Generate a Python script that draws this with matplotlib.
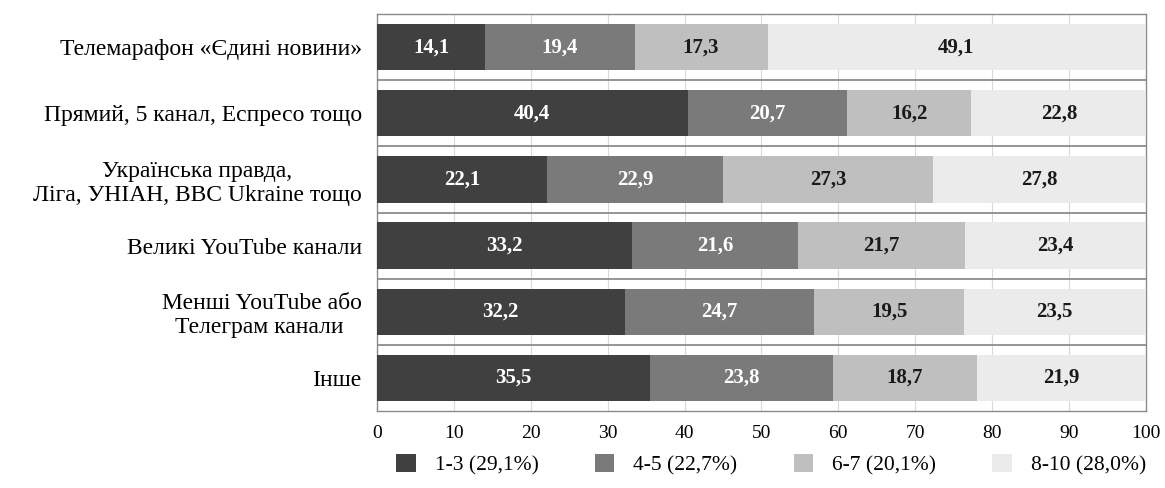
import matplotlib
matplotlib.use('Agg')
import matplotlib.pyplot as plt
import numpy as np

plt.rcParams['font.family'] = ['Liberation Serif', 'DejaVu Serif']

categories = ['Телемарафон «Єдині новини»',
              'Прямий, 5 канал, Еспресо тощо',
              'Українська правда,\nЛіга, УНІАН, BBC Ukraine тощо',
              'Великі YouTube канали',
              'Менші YouTube або\nТелеграм канали ',
              'Інше']
s13 = [14.1, 40.4, 22.1, 33.2, 32.2, 35.5]
s45 = [19.4, 20.7, 22.9, 21.6, 24.7, 23.8]
s67 = [17.3, 16.2, 27.3, 21.7, 19.5, 18.7]
s810 = [49.1, 22.8, 27.8, 23.4, 23.5, 21.9]
series_names = ['1-3 (29,1%)', '4-5 (22,7%)', '6-7 (20,1%)', '8-10 (28,0%)']
colors = ['#404040', '#7a7a7a', '#bfbfbf', '#ebebeb']
text_colors = ['white', 'white', '#1a1a1a', '#1a1a1a']

fig = plt.figure(figsize=(11.65, 4.88), dpi=100)
ax = fig.add_axes([0.3236, 0.158, 0.66, 0.813])

y = np.arange(len(categories))
left = np.zeros(len(categories))
for vals, name, c, tc in zip([s13, s45, s67, s810], series_names, colors, text_colors):
    bars = ax.barh(y, vals, left=left, height=0.7, color=c, label=name, zorder=3)
    for b, v in zip(bars, vals):
        ax.text(b.get_x() + b.get_width() / 2, b.get_y() + b.get_height() / 2,
                f'{v:.1f}'.replace('.', ','), ha='center', va='center',
                color=tc, fontsize=15, fontweight='bold', zorder=4)
    left += np.array(vals)

ax.set_xlim(0, 100)
ax.set_ylim(len(categories) - 0.5, -0.5)
ax.set_xticks(range(0, 101, 10))
ax.set_yticks(y)
ax.set_yticklabels(categories, fontsize=17, multialignment='center')
ax.tick_params(axis='x', length=0, labelsize=14, pad=10)
ax.tick_params(axis='y', length=0, pad=11)
ax.grid(axis='x', color='#d9d9d9', linewidth=0.8, zorder=0)
for b in np.arange(0.5, len(categories) - 0.5, 1):
    ax.axhline(b, color='#8c8c8c', linewidth=1.3, zorder=2)
for sp in ax.spines.values():
    sp.set_color('#8c8c8c')
    sp.set_linewidth(1.0)

handles, labels = ax.get_legend_handles_labels()
fig.legend(handles, labels, loc='center', bbox_to_anchor=(0.662, 0.047), ncol=4,
           frameon=False, fontsize=15.5, handlelength=0.9, handleheight=0.9,
           columnspacing=2.6, handletextpad=0.9)

fig.savefig('out.png', dpi=100)
